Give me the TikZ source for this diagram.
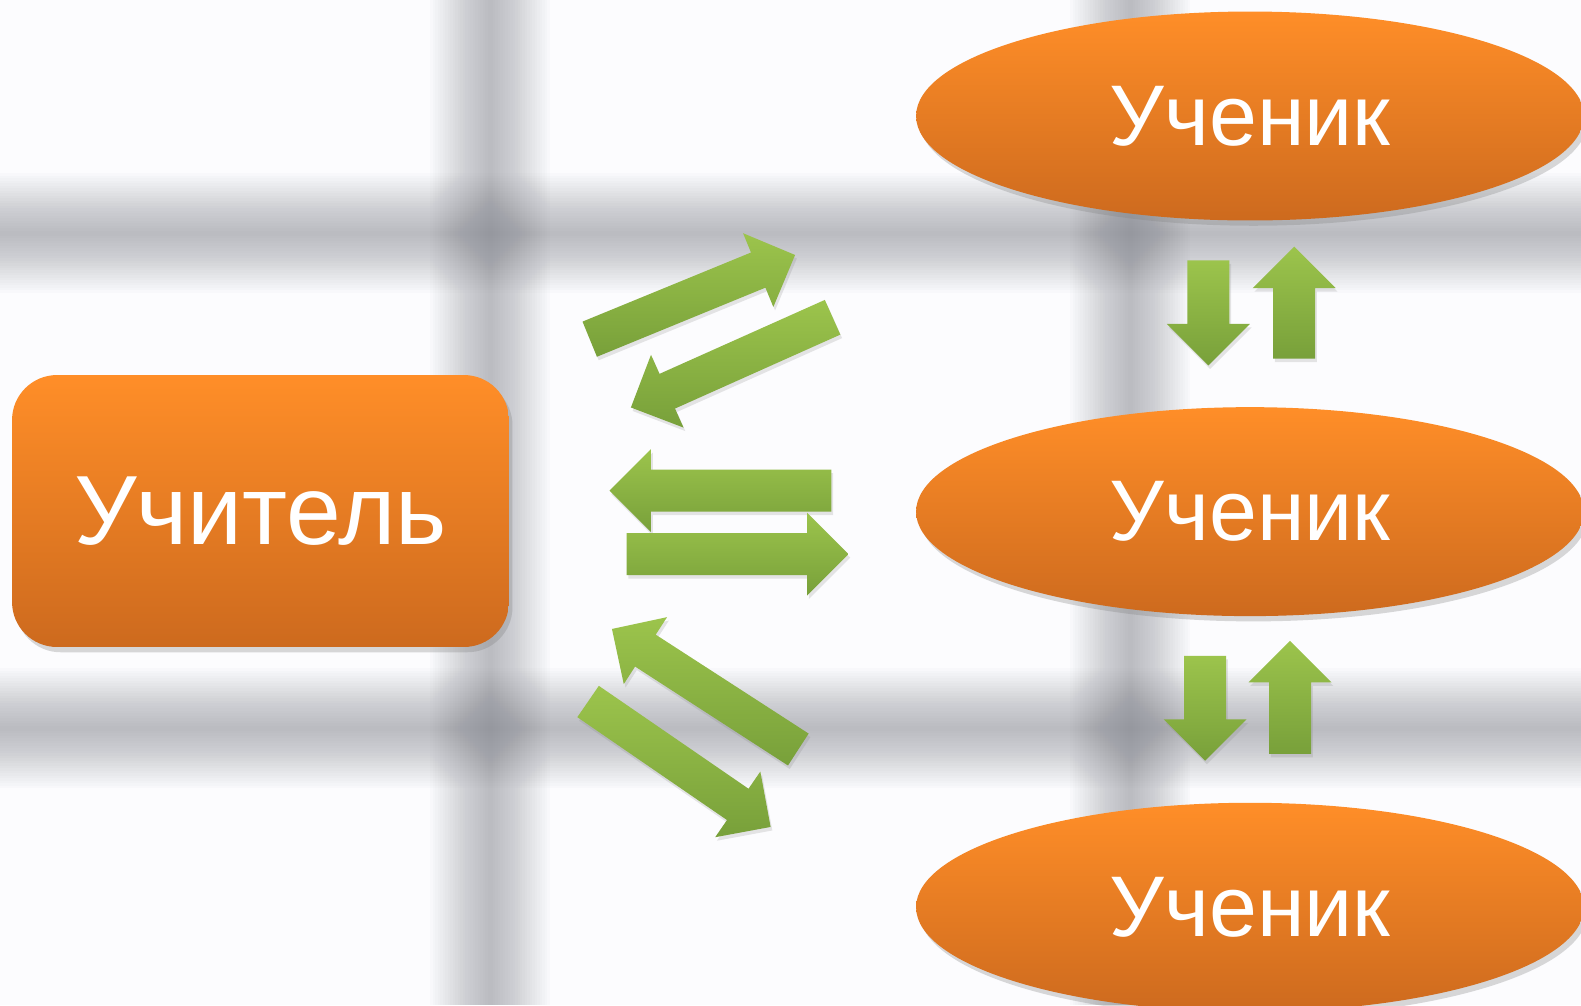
\documentclass[tikz,border=0pt]{standalone}
\usepackage{fontspec}
\setmainfont{Liberation Sans}
\usetikzlibrary{positioning,shapes.geometric,shapes.arrows,shadows}
\definecolor{orangetop}{RGB}{255,142,40}
\definecolor{orangebot}{RGB}{205,106,30}
\definecolor{greenlight}{RGB}{156,196,76}
\definecolor{greendark}{RGB}{120,160,58}
\definecolor{gridgray}{RGB}{120,122,132}
\definecolor{paper}{RGB}{252,252,254}

\begin{document}
\begin{tikzpicture}[x=0.02cm,y=-0.02cm,
    teacher/.style={rectangle,rounded corners=0.9cm,minimum width=9.94cm,minimum height=5.44cm,
      top color=orangetop,bottom color=orangebot,text=white,font=\fontsize{56}{60}\selectfont,
      drop shadow={shadow xshift=2pt,shadow yshift=-3pt,opacity=.3}},
    student/.style={ellipse,minimum width=13.36cm,minimum height=4.18cm,inner sep=0pt,
      top color=orangetop,bottom color=orangebot,text=white,font=\fontsize{49}{54}\selectfont,
      drop shadow={shadow xshift=2pt,shadow yshift=-3pt,opacity=.3}},
    blockarr/.style={single arrow,anchor=tail,top color=greenlight,bottom color=greendark,inner sep=0.373cm,
      single arrow head extend=0.417cm,minimum width=1.58cm,
      drop shadow={shadow xshift=1pt,shadow yshift=-2pt,opacity=.2}},
    flatarr/.style={blockarr,inner sep=0.413cm,single arrow head extend=0.41cm,minimum width=1.64cm},
    node distance=3.72cm
  ]
    \useasboundingbox (0,0) rectangle (1581,1005);
    \clip (0,0) rectangle (1581,1005);
    \fill[paper] (0,0) rectangle (1581,1005);

    % blurred grid behind
    \foreach \w in {0.1,0.2,...,2.4} {
      \draw[gridgray,opacity=.024,line width=\w cm] (0,233) -- (1581,233);
      \draw[gridgray,opacity=.024,line width=\w cm] (0,728) -- (1581,728);
      \draw[gridgray,opacity=.024,line width=\w cm] (490,0) -- (490,1005);
      \draw[gridgray,opacity=.024,line width=\w cm] (1130,0) -- (1130,1005);
    }

    \node[teacher] (teach) at (260.5,511) {Учитель};
    \node[student] (pup1) at (1250,116) {Ученик};
    \node[student,below=of pup1] (pup2) {Ученик};
    \node[student,below=of pup2] (pup3) {Ученик};

    % teacher <-> pupils
    \node[blockarr,minimum height=4.44cm,rotate=22.3] (tp1) at (589.4,339.3) {};
    \node[blockarr,minimum height=4.42cm,rotate=204.1] (pt1) at (832.9,317.1) {};
    \node[flatarr,minimum height=4.44cm,rotate=180] (pt2) at (831.8,490.5) {};
    \node[flatarr,minimum height=4.44cm] (tp2) at (626.2,554.1) {};
    \node[blockarr,minimum height=4.44cm,rotate=147.1] (pt3) at (798.6,749.7) {};
    \node[blockarr,minimum height=4.43cm,rotate=-34.5] (tp3) at (587.8,701.3) {};

    % pupil <-> pupil
    \node[flatarr,minimum height=2.1cm,rotate=-90] (down1) at (1208.4,260.1) {};
    \node[flatarr,minimum height=2.24cm,rotate=90] (up1) at (1294.2,359) {};
    \node[flatarr,minimum height=2.1cm,rotate=-90] (down2) at (1205,655.4) {};
    \node[flatarr,minimum height=2.26cm,rotate=90] (up2) at (1290,754.2) {};
  \end{tikzpicture}
\end{document}
